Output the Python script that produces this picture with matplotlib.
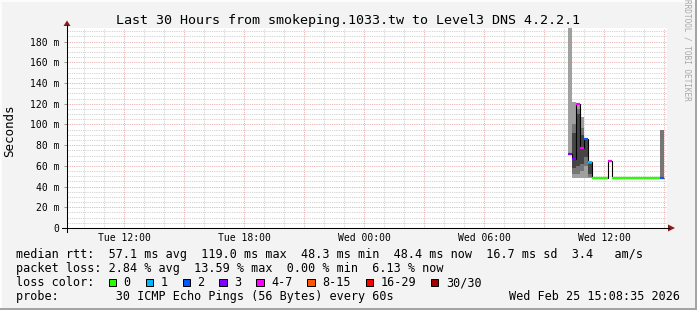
import matplotlib
matplotlib.use('Agg')
import matplotlib.pyplot as plt
from matplotlib.patches import Rectangle, Polygon
from matplotlib.lines import Line2D

W, H = 697, 310

title = 'Last 30 Hours from smokeping.1033.tw to Level3 DNS 4.2.2.1'

# 12 minute samples on Wed (time = start of the consolidation step)
sample_times = ['10:12', '10:24', '10:36', '10:48', '11:00', '11:12', '11:24', '11:36',
                '11:48', '12:00', '12:12', '12:24', '12:36', '12:48', '13:00', '13:12',
                '13:24', '13:36', '13:48', '14:00', '14:12', '14:24', '14:36', '14:48']
last_edge = '15:00'
graph_end = '15:08:35'

median_ms = [71.5, 66.7, 119.8, 77.0, 85.7, 64.0, 48.6, 48.6, 48.6, 48.6, 65.0, 48.6,
             48.6, 48.6, 48.6, 48.6, 48.6, 48.6, 48.6, 48.6, 48.6, 48.6, 48.6, 48.6]
loss_bucket = [3, 3, 4, 4, 2, 1, 0, 0, 0, 0, 4, 0,
               0, 0, 0, 0, 0, 0, 0, 0, 0, 0, 0, 2]
# smoke: outer range, middle range, core range of the 30 pings
smoke_min = [71.5, 48.3, 48.3, 48.3, 48.3, 48.3, 48.6, 48.6, 48.6, 48.6, 65.0, 48.6,
             48.6, 48.6, 48.6, 48.6, 48.6, 48.6, 48.6, 48.6, 48.6, 48.6, 48.6, 48.6]
smoke_max = [193.0, 122.0, 120.5, 107.5, 87.0, 64.5, 48.6, 48.6, 48.6, 48.6, 65.0, 48.6,
             48.6, 48.6, 48.6, 48.6, 48.6, 48.6, 48.6, 48.6, 48.6, 48.6, 48.6, 94.7]
smoke_p10 = [71.5, 52.0, 52.0, 55.0, 60.0, 49.0, 48.6, 48.6, 48.6, 48.6, 65.0, 48.6,
             48.6, 48.6, 48.6, 48.6, 48.6, 48.6, 48.6, 48.6, 48.6, 48.6, 48.6, 48.6]
smoke_p90 = [71.5, 100.0, 115.0, 97.0, 86.0, 64.0, 48.6, 48.6, 48.6, 48.6, 65.0, 48.6,
             48.6, 48.6, 48.6, 48.6, 48.6, 48.6, 48.6, 48.6, 48.6, 48.6, 48.6, 94.7]
smoke_q1 = [71.5, 58.0, 60.0, 62.0, 69.0, 52.0, 48.6, 48.6, 48.6, 48.6, 65.0, 48.6,
            48.6, 48.6, 48.6, 48.6, 48.6, 48.6, 48.6, 48.6, 48.6, 48.6, 48.6, 48.6]
smoke_q3 = [71.5, 92.0, 110.0, 90.0, 85.0, 62.0, 48.6, 48.6, 48.6, 48.6, 65.0, 48.6,
            48.6, 48.6, 48.6, 48.6, 48.6, 48.6, 48.6, 48.6, 48.6, 48.6, 48.6, 48.6]

loss_labels = ['0', '1', '2', '3', '4-7', '8-15', '16-29', '30/30']
loss_colors = ['#26ff00', '#00b8ff', '#0059ff', '#7e00ff', '#ff00ff', '#ff5500', '#ff0000', '#a10000']

x_tick_hours = [-12, -6, 0, 6, 12]
x_tick_labels = ['Tue 12:00', 'Tue 18:00', 'Wed 00:00', 'Wed 06:00', 'Wed 12:00']
y_ticks = [0, 20, 40, 60, 80, 100, 120, 140, 160, 180]

rtt_stats = [57.1, 119.0, 48.3, 48.4, 16.7]
am_s = 3.4
loss_stats = [2.84, 13.59, 0.00, 6.13]
probe_text = '30 ICMP Echo Pings (56 Bytes) every 60s'
stamp = 'Wed Feb 25 15:08:35 2026'


def to_hours(s):
    parts = [int(p) for p in s.split(':')]
    while len(parts) < 3:
        parts.append(0)
    return parts[0] + parts[1] / 60 + parts[2] / 3600


def px(x, y):
    return (x / W, 1 - y / H)


mono = 'DejaVu Sans Mono'
plt.rcParams['font.family'] = mono
plt.rcParams['lines.scale_dashes'] = False

end = to_hours(graph_end)
start = end - 30
edges = [to_hours(s) for s in sample_times] + [to_hours(last_edge)]

fig = plt.figure(figsize=(W / 100, H / 100), dpi=100, facecolor='#f3f3f3')
ax = fig.add_axes([67 / W, 1 - 228 / H, 600 / W, 200 / H])
ax.set_facecolor('white')
ax.set_xlim(start, end)
ax.set_ylim(0, 193.2)
for s in ax.spines.values():
    s.set_visible(False)

# grid (dotted, ~1px on / 1px off)
minor_c, major_c = '#d2d2d2', '#eab2b2'
dot = (0, (0.8, 0.8))
for hr in range(-14, 16):
    if start < hr < end:
        ax.axvline(hr, color=major_c if hr % 3 == 0 else minor_c, lw=0.72,
                   linestyle=dot, zorder=0.5)
for v in range(5, 195, 5):
    ax.axhline(v, color=major_c if v % 20 == 0 else minor_c, lw=0.72,
               linestyle=dot, zorder=0.5)

# smoke
ax.stairs(smoke_max, edges, baseline=smoke_min, fill=True, color='#a0a0a0',
          lw=0, zorder=2)
ax.stairs(smoke_p90, edges, baseline=smoke_p10, fill=True, color='#767676',
          lw=0, zorder=2.1)
ax.stairs(smoke_q3, edges, baseline=smoke_q1, fill=True, color='#454545',
          lw=0, zorder=2.2)

# median: black steps, coloured by loss
ax.stairs(median_ms, edges, baseline=None, color='black', lw=0.8, zorder=3)
for i, m in enumerate(median_ms):
    ax.hlines(m, edges[i], edges[i + 1], color=loss_colors[loss_bucket[i]],
              lw=1.6, zorder=4)

ax.set_xticks(x_tick_hours)
ax.set_xticklabels(x_tick_labels)
ax.set_yticks(y_ticks)
ax.set_yticklabels([f'{v} m' if v else '0' for v in y_ticks])
ax.tick_params(axis='x', length=0, pad=3.4, labelsize=7)
ax.tick_params(axis='y', length=2.2, width=0.72, color='#999999', pad=3.2, labelsize=7)

# axis lines with arrows
fig.add_artist(Line2D(*zip(px(62, 228), px(669, 228)), transform=fig.transFigure,
                      color='black', lw=0.75))
fig.add_artist(Line2D(*zip(px(67, 232), px(67, 25)), transform=fig.transFigure,
                      color='black', lw=0.75))
fig.add_artist(Polygon([px(668, 224.5), px(675, 228), px(668, 231.5)],
                       transform=fig.transFigure, color='#8b1a1a', lw=0))
fig.add_artist(Polygon([px(63.5, 26), px(67, 20.5), px(70.5, 26)],
                       transform=fig.transFigure, color='#8b1a1a', lw=0))

# texts
fig.text(*px(348.5, 24), title, ha='center', va='baseline', fontsize=9.6)
fig.text(*px(10, 131), 'Seconds', rotation=90, ha='center', va='center', fontsize=9)
fig.text(*px(686.5, 50), 'RRDTOOL / TOBI OETIKER', rotation=-90, ha='center',
         va='center', fontsize=5.6, color='#a8a8a8')

fs = 8.5
line1 = (f'median rtt:  {rtt_stats[0]:.1f} ms avg  {rtt_stats[1]:.1f} ms max  '
         f'{rtt_stats[2]:.1f} ms min  {rtt_stats[3]:.1f} ms now  {rtt_stats[4]:.1f} ms sd  '
         f'{am_s:.1f}   am/s')
line2 = (f'packet loss: {loss_stats[0]:.2f} % avg  {loss_stats[1]:.2f} % max  '
         f'{loss_stats[2]:.2f} % min  {loss_stats[3]:.2f} % now')
fig.text(*px(16, 258.3), line1, va='baseline', fontsize=fs)
fig.text(*px(16, 272.3), line2, va='baseline', fontsize=fs)
fig.text(*px(16, 286.2), 'loss color:', va='baseline', fontsize=fs)
fig.text(*px(16, 300.2), 'probe:        ' + probe_text, va='baseline', fontsize=fs)
fig.text(*px(680, 300.2), stamp, va='baseline', ha='right', fontsize=fs)

bx = 108.7
for lab, col in zip(loss_labels, loss_colors):
    fig.add_artist(Rectangle(px(bx, 286), 7.3 / W, 7.5 / H, transform=fig.transFigure,
                             facecolor=col, edgecolor='black', lw=0.72))
    fig.text(*px(bx + 14.8, 286.2), lab, va='baseline', fontsize=fs)
    bx += 14.8 + 7.1 * len(lab) + 15

# frame shading
fig.add_artist(Rectangle((0, 0), 1, 2.3 / H, transform=fig.transFigure,
                         color='#a4a4a4', lw=0))
fig.add_artist(Rectangle((1 - 2 / W, 0), 2 / W, 1, transform=fig.transFigure,
                         color='#a4a4a4', lw=0))
fig.add_artist(Rectangle((0, 1 - 1.5 / H), 1 - 2 / W, 1.5 / H, transform=fig.transFigure,
                         color='#fcfcfc', lw=0))
fig.add_artist(Rectangle((0, 2.3 / H), 1.5 / W, 1, transform=fig.transFigure,
                         color='#fcfcfc', lw=0))

fig.savefig('out.png', dpi=100, facecolor=fig.get_facecolor())
